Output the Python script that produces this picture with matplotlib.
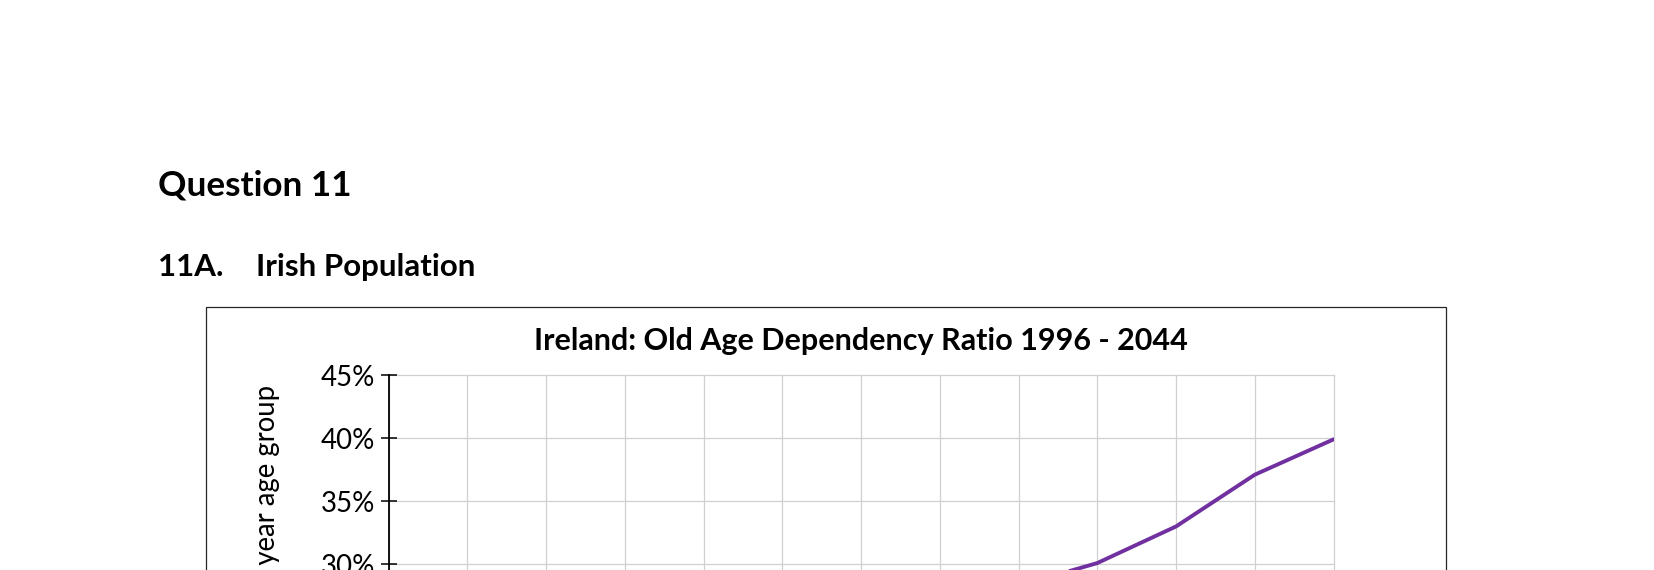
import matplotlib
matplotlib.use("Agg")
import matplotlib.pyplot as plt
import numpy as np
from matplotlib.patches import Rectangle
from matplotlib.ticker import PercentFormatter

plt.rcParams['font.family'] = ['Lato', 'DejaVu Sans']

# data (values below 30% are cut off in the reference, estimated)
years = [1996, 2000, 2004, 2008, 2012, 2016, 2020, 2024, 2028, 2032, 2036, 2040, 2044]
ratio = [0.175, 0.168, 0.163, 0.166, 0.180, 0.202, 0.223, 0.250, 0.283, 0.301, 0.330, 0.371, 0.399]
yticks = [0.0, 0.05, 0.10, 0.15, 0.20, 0.25, 0.30, 0.35, 0.40, 0.45]

W, H = 1654, 570
fig = plt.figure(figsize=(W / 100, H / 100), dpi=100)

def fx(px):
    return px / W

def fy(py):
    return 1 - py / H

# page headings
fig.text(fx(158), fy(195), 'Question 11', fontsize=25.3, fontweight='bold', va='baseline')
fig.text(fx(158), fy(276), '11A.', fontsize=22.5, fontweight='bold', va='baseline')
fig.text(fx(256), fy(276), 'Irish Population', fontsize=22.5, fontweight='bold', va='baseline')

# chart frame (runs off the bottom of the page)
fig.add_artist(Rectangle((fx(206), fy(1100)), fx(1446) - fx(206), fy(307) - fy(1100),
                         transform=fig.transFigure, fill=False, edgecolor='#262626', lw=0.9))

fig.text(fx(861), fy(350), 'Ireland: Old Age Dependency Ratio 1996 - 2044',
         fontsize=22, fontweight='bold', ha='center', va='baseline')

ax = fig.add_axes([fx(388.5), fy(943), fx(1333.5) - fx(388.5), fy(375) - fy(943)])
x = np.arange(len(years))
ax.plot(x, ratio, color='#7030A0', lw=2.8, solid_capstyle='round', solid_joinstyle='round', zorder=3)

ax.set_xlim(0, len(years) - 1)
ax.set_ylim(0, 0.45)
ax.set_xticks(x)
ax.set_yticks(yticks)
ax.yaxis.set_major_formatter(PercentFormatter(1.0, decimals=0))
ax.grid(True, color='#d0d0d0', lw=0.9)
for g in ax.get_xgridlines() + ax.get_ygridlines():
    g.set_clip_on(False)
ax.set_axisbelow(True)
for s in ['top', 'right', 'bottom']:
    ax.spines[s].set_visible(False)
ax.spines['left'].set_linewidth(1.3)
ax.tick_params(axis='y', direction='inout', length=12, width=1.1, pad=3.5, labelsize=19.9)
ax.tick_params(axis='x', length=0, labelbottom=False)

fig.text(fx(267), fy(385), 'Ratio of persons aged 65+ to those in the 15-64 year age group',
         rotation=90, ha='center', va='top', fontsize=19.8)

fig.savefig('out.png', dpi=100)
